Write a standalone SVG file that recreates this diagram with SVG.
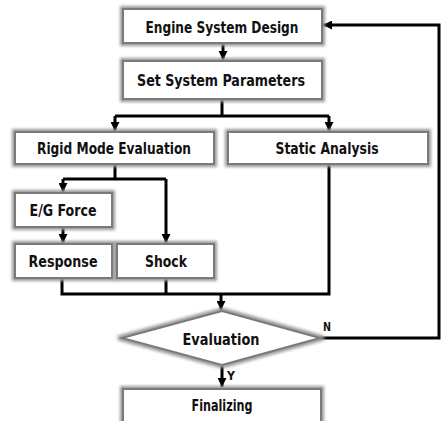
<svg xmlns="http://www.w3.org/2000/svg" width="444" height="421" viewBox="0 0 444 421">
  <defs>
    <filter id="glow" x="-20%" y="-40%" width="140%" height="180%">
      <feMorphology in="SourceAlpha" operator="dilate" radius="1.5" result="fat"/>
      <feGaussianBlur in="fat" stdDeviation="1.8" result="blur"/>
      <feFlood flood-color="#9a9a9a"/>
      <feComposite in2="blur" operator="in" result="shadow"/>
      <feMerge>
        <feMergeNode in="shadow"/>
        <feMergeNode in="SourceGraphic"/>
      </feMerge>
    </filter>
    <marker id="arrow" viewBox="0 0 10 10" refX="10" refY="5" markerWidth="3" markerHeight="3" orient="auto" markerUnits="strokeWidth">
      <path d="M0,0 L10,5 L0,10 Z" fill="#000"/>
    </marker>
  </defs>
  <style>
    .box { fill: #fff; stroke: #7a7a7a; stroke-width: 2; filter: url(#glow); }
    .label { font-family: "DejaVu Sans Condensed", "DejaVu Sans", sans-serif; font-weight: bold; font-size: 16.5px; fill: #111; text-anchor: middle; }
    .small { font-family: "DejaVu Sans Condensed", "DejaVu Sans", sans-serif; font-weight: bold; font-size: 13px; fill: #111; }
    .wire { fill: none; stroke: #000; stroke-width: 3; }
  </style>
  <rect width="444" height="421" fill="#fff"/>

  <!-- connectors -->
  <g id="connectors">
    <path class="wire" d="M223,43 V60" marker-end="url(#arrow)"/>
    <path class="wire" d="M222,99 V116 M115,116 H329"/>
    <path class="wire" d="M115,116 V131" marker-end="url(#arrow)"/>
    <path class="wire" d="M329,116 V131" marker-end="url(#arrow)"/>
    <path class="wire" d="M115,164 V179 M63,179 H166"/>
    <path class="wire" d="M63,179 V192" marker-end="url(#arrow)"/>
    <path class="wire" d="M166,179 V243" marker-end="url(#arrow)"/>
    <path class="wire" d="M63,227 V243" marker-end="url(#arrow)"/>
    <path class="wire" d="M62,278 V294 H329 V164 M166,278 V294"/>
    <path class="wire" d="M221,294 V310" marker-end="url(#arrow)"/>
    <path class="wire" d="M222,365 V387" marker-end="url(#arrow)"/>
    <path class="wire" d="M320,338 H439 V25 H323" marker-end="url(#arrow)"/>
    <text class="small" x="227" y="380" textLength="8" lengthAdjust="spacingAndGlyphs">Y</text>
    <text class="small" x="323" y="331" textLength="8" lengthAdjust="spacingAndGlyphs">N</text>
  </g>

  <g id="engine-system-design">
    <rect class="box" x="123" y="9" width="199" height="34"/>
    <text class="label" x="222" y="33" textLength="153" lengthAdjust="spacingAndGlyphs">Engine System Design</text>
  </g>
  <g id="set-system-parameters">
    <rect class="box" x="123" y="61" width="199" height="38"/>
    <text class="label" x="221" y="86" textLength="168" lengthAdjust="spacingAndGlyphs">Set System Parameters</text>
  </g>
  <g id="rigid-mode-evaluation">
    <rect class="box" x="15" y="132" width="199" height="32"/>
    <text class="label" x="114" y="154" textLength="154" lengthAdjust="spacingAndGlyphs">Rigid Mode Evaluation</text>
  </g>
  <g id="static-analysis">
    <rect class="box" x="228" y="132" width="200" height="32"/>
    <text class="label" x="327" y="154" textLength="103" lengthAdjust="spacingAndGlyphs">Static Analysis</text>
  </g>
  <g id="eg-force">
    <rect class="box" x="15" y="193" width="97" height="34"/>
    <text class="label" x="63" y="216" textLength="67" lengthAdjust="spacingAndGlyphs">E/G Force</text>
  </g>
  <g id="response">
    <rect class="box" x="15" y="244" width="97" height="34"/>
    <text class="label" x="63" y="267" textLength="69" lengthAdjust="spacingAndGlyphs">Response</text>
  </g>
  <g id="shock">
    <rect class="box" x="117" y="244" width="97" height="34"/>
    <text class="label" x="166" y="267" textLength="42" lengthAdjust="spacingAndGlyphs">Shock</text>
  </g>
  <g id="evaluation">
    <polygon class="box" points="222,311 320,338 222,365 122,338"/>
    <text class="label" x="221" y="345" textLength="77" lengthAdjust="spacingAndGlyphs">Evaluation</text>
  </g>
  <g id="finalizing">
    <rect class="box" x="123" y="389" width="198" height="34"/>
    <text class="label" x="222" y="411" textLength="61" lengthAdjust="spacingAndGlyphs">Finalizing</text>
  </g>
</svg>
